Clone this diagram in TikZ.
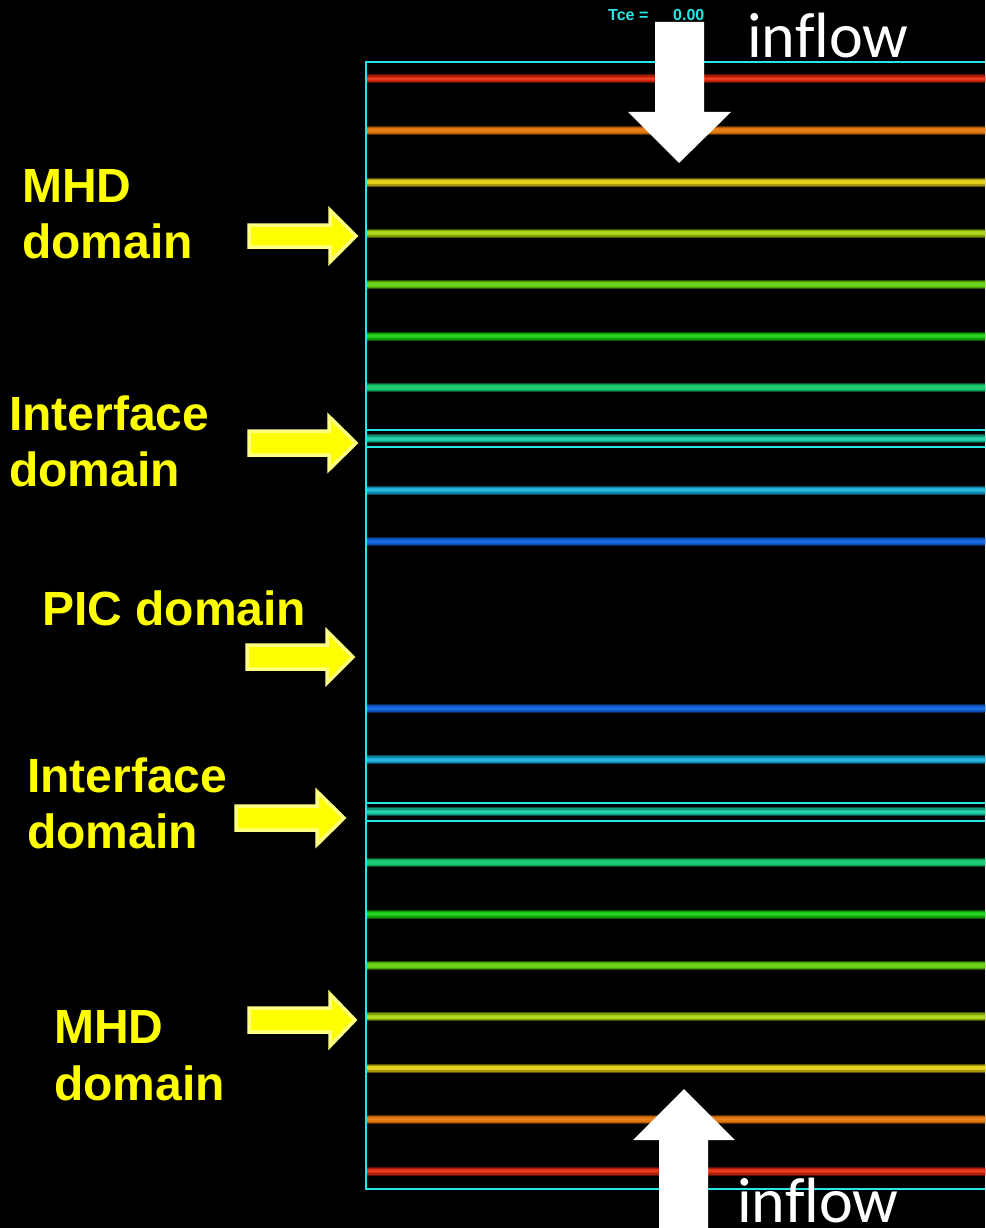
\documentclass[tikz,border=0pt]{standalone}
\usepackage{fontspec}
\setmainfont{Liberation Sans}
\newfontfamily\inflowfont[Ligatures=NoCommon]{Carlito}
\definecolor{boxcyan}{RGB}{40,230,230}
\definecolor{labyellow}{RGB}{255,255,0}
\definecolor{arrowedge}{RGB}{255,255,130}
\definecolor{cR}{RGB}{226,40,12}
\definecolor{cO}{RGB}{226,122,14}
\definecolor{cY}{RGB}{224,204,16}
\definecolor{cYG}{RGB}{170,210,16}
\definecolor{cLG}{RGB}{100,208,16}
\definecolor{cG}{RGB}{24,204,16}
\definecolor{cGT}{RGB}{24,200,110}
\definecolor{cT}{RGB}{24,200,160}
\definecolor{cCB}{RGB}{24,174,218}
\definecolor{cB}{RGB}{16,96,216}
\tikzset{
  lab/.style={anchor=base west, inner sep=0pt, text=labyellow, font=\bfseries\fontsize{48}{56}\selectfont},
  inflowlab/.style={anchor=base west, inner sep=0pt, text=white, font=\inflowfont\fontsize{64}{70}\selectfont},
  tcelab/.style={anchor=base west, inner sep=0pt, text=boxcyan, font=\bfseries\fontsize{16}{18}\selectfont},
  yarrow/.style={fill=labyellow, draw=arrowedge, line width=3.5pt, line join=miter},
  warrow/.style={fill=white},
  thin cyan/.style={draw=boxcyan, line width=2pt}
}
\newcommand{\tubeline}[2]{%
  \draw[line width=9pt, #2!40!black] (367,#1) -- (1000,#1);
  \draw[line width=7pt, #2!75!black] (367,#1) -- (1000,#1);
  \draw[line width=4.5pt, #2] (367,#1) -- (1000,#1);
  \draw[line width=1.5pt, #2!90!white] (367,#1) -- (1000,#1);}
\newcommand{\yarrowR}[6]{% tail, headbase, tip, yc, shaft half, head half
  \path[yarrow] (#1,#4-#5) -- (#2,#4-#5) -- (#2,#4-#6) -- (#3,#4) -- (#2,#4+#6) -- (#2,#4+#5) -- (#1,#4+#5) -- cycle;}
\begin{document}
\begin{tikzpicture}[x=1pt,y=-1pt]
\useasboundingbox (0,0) rectangle (985,1228);
\fill[black] (0,0) rectangle (985,1228);
\begin{scope}
\clip (0,0) rectangle (985,1228);
% domain box
\draw[thin cyan] (366,62) rectangle (1010,1189);
% interface boundaries
\draw[thin cyan] (366,430) -- (1010,430);
\draw[thin cyan] (366,447) -- (1010,447);
\draw[thin cyan] (366,803) -- (1010,803);
\draw[thin cyan] (366,821) -- (1010,821);
% field lines
\tubeline{79}{cR}
\tubeline{130.5}{cO}
\tubeline{182}{cY}
\tubeline{233.2}{cYG}
\tubeline{284.6}{cLG}
\tubeline{336}{cG}
\tubeline{387.4}{cGT}
\tubeline{438.8}{cT}
\tubeline{490.2}{cCB}
\tubeline{541.6}{cB}
\tubeline{708.4}{cB}
\tubeline{759.8}{cCB}
\tubeline{811.8}{cT}
\tubeline{862.6}{cGT}
\tubeline{914}{cG}
\tubeline{965.4}{cLG}
\tubeline{1016.8}{cYG}
\tubeline{1068.2}{cY}
\tubeline{1119.6}{cO}
\tubeline{1171}{cR}
% white inflow arrows
\fill[warrow] (655,22) -- (704,22) -- (704,112) -- (731,112) -- (679,163) -- (628,112) -- (655,112) -- cycle;
\fill[warrow] (659,1240) -- (708,1240) -- (708,1140) -- (735,1140) -- (684,1089) -- (633,1140) -- (659,1140) -- cycle;
% texts
\node[tcelab] (tce) at (608,21) {Tce =};
\node[tcelab] (tceval) at (673,21) {0.00};
\node[inflowlab] (inflowtop) at (747,58) {inflow};
\node[inflowlab] (inflowbot) at (737,1222) {inflow};
\end{scope}
\node[lab] (mhd1a) at (22,202) {MHD};
\node[lab] (mhd1b) at (22,258) {domain};
\node[lab] (if1a) at (9,430) {Interface};
\node[lab] (if1b) at (9,486) {domain};
\node[lab] (pic) at (42,625) {PIC domain};
\node[lab] (if2a) at (27,792) {Interface};
\node[lab] (if2b) at (27,848) {domain};
\node[lab] (mhd2a) at (54,1043) {MHD};
\node[lab] (mhd2b) at (54,1100) {domain};
% yellow pointer arrows
\yarrowR{249}{330}{356}{236}{11}{26}
\yarrowR{249}{329}{356}{443}{12}{26.5}
\yarrowR{247}{327}{353}{657}{12}{26}
\yarrowR{236}{317}{344}{818}{12}{26.5}
\yarrowR{249}{330}{355}{1020}{12}{26}
\end{tikzpicture}
\end{document}
